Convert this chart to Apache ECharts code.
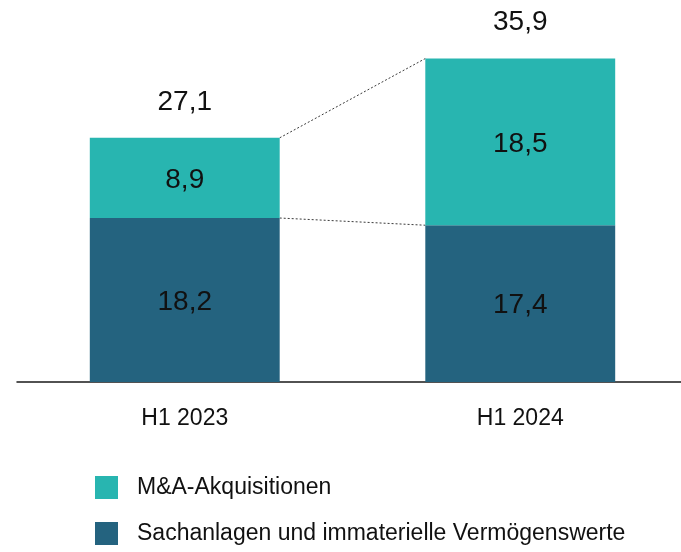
<!DOCTYPE html>
<html>
<head>
<meta charset="utf-8">
<script src="https://cdn.jsdelivr.net/npm/echarts@6/dist/echarts.min.js"></script>
<style>
  html, body { margin: 0; padding: 0; background: #fff; }
  #chart { width: 681px; height: 552px; }
</style>
</head>
<body>
<div id="chart"></div>
<script>
// Investitionen nach Periode (Mrd.)
const categories = ['H1 2023', 'H1 2024'];
const sachanlagen = [18.2, 17.4];
const akquisitionen = [8.9, 18.5];
const seriesNames = ['Sachanlagen und immaterielle Vermögenswerte', 'M&A-Akquisitionen'];

const totals = categories.map((_, i) => +(sachanlagen[i] + akquisitionen[i]).toFixed(1));
const fmt = v => v.toFixed(1).replace('.', ',');

const FONT = '"Liberation Sans Narrow", "Liberation Sans", Arial, sans-serif';
const BAR_RATIO = 0.566;
const DARK = '#24637f';
const TEAL = '#28b5b0';
const INK = '#111111';
const NUM_SIZE = 28;

const legendItem = (name, top) => ({
  orient: 'vertical',
  left: 95, top: top,
  padding: 0,
  itemWidth: 23, itemHeight: 23,
  icon: 'rect',
  data: [name],
  textStyle: { color: INK, fontSize: 23, fontFamily: FONT, padding: [6, 0, 0, 14] }
});

const chart = echarts.init(document.getElementById('chart'), null, { renderer: 'canvas' });

chart.setOption({
  animation: false,
  textStyle: { fontFamily: FONT },
  grid: { left: 17, width: 671, top: 21.6, bottom: 170, containLabel: false, outerBoundsMode: 'none' },
  xAxis: {
    type: 'category',
    data: categories,
    axisLine: { lineStyle: { color: '#1a1a1a', width: 1.5 } },
    axisTick: { show: false },
    axisLabel: { color: INK, fontSize: 23, fontFamily: FONT, margin: 25 }
  },
  yAxis: {
    type: 'value', min: 0, max: 40,
    show: false
  },
  legend: [
    legendItem(seriesNames[1], 476),
    legendItem(seriesNames[0], 522)
  ],
  series: [
    {
      name: seriesNames[0], type: 'bar', stack: 'inv',
      barWidth: (BAR_RATIO * 100) + '%',
      data: sachanlagen,
      itemStyle: { color: DARK },
      label: { show: true, position: 'inside', offset: [0, 2], color: INK, fontSize: NUM_SIZE, fontFamily: FONT, formatter: p => fmt(p.value) }
    },
    {
      name: seriesNames[1], type: 'bar', stack: 'inv',
      barWidth: (BAR_RATIO * 100) + '%',
      data: akquisitionen,
      itemStyle: { color: TEAL },
      label: { show: true, position: 'inside', offset: [0, 2], color: INK, fontSize: NUM_SIZE, fontFamily: FONT, formatter: p => fmt(p.value) }
    },
    {
      name: 'Summe', type: 'scatter',
      symbolSize: 0,
      itemStyle: { color: 'transparent', opacity: 1 },
      data: totals.map((t, i) => [i, t]),
      label: {
        show: true, position: 'top', distance: 22,
        color: INK, opacity: 1, fontSize: NUM_SIZE, fontFamily: FONT,
        textBorderWidth: 0,
        formatter: p => fmt(p.value[1])
      },
      silent: true
    },
    {
      name: 'Verbinder', type: 'custom',
      silent: true,
      data: [[0, totals[0], totals[1]], [0, sachanlagen[0], sachanlagen[1]]],
      renderItem: function (params, api) {
        const i = api.value(0);
        const half = api.size([1, 0])[0] * BAR_RATIO / 2;
        const a = api.coord([i, api.value(1)]);
        const b = api.coord([i + 1, api.value(2)]);
        return {
          type: 'line',
          shape: { x1: a[0] + half, y1: a[1], x2: b[0] - half, y2: b[1] },
          style: { stroke: '#3a3a3a', lineWidth: 1, lineDash: [2, 2] }
        };
      }
    }
  ]
});
</script>
</body>
</html>
